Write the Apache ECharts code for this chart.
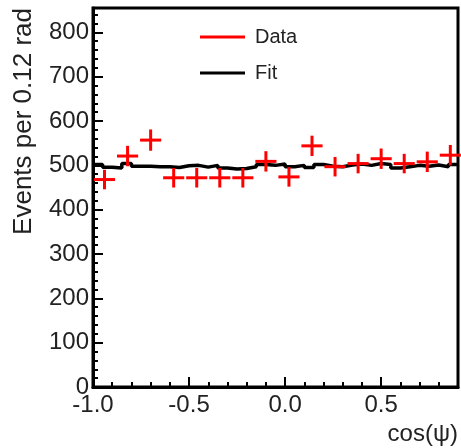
<!DOCTYPE html>
<html>
<head>
<meta charset="utf-8">
<script src="https://cdn.jsdelivr.net/npm/echarts@6/dist/echarts.min.js"></script>
<style>
html,body{margin:0;padding:0;background:#fff;}
#c{width:461px;height:448px;}
</style>
</head>
<body>
<div id="c"></div>
<script>
// Data points (bin centres, events, errors)
const dataX = [-0.94, -0.82, -0.70, -0.58, -0.46, -0.34, -0.22, -0.10, 0.02, 0.14, 0.26, 0.38, 0.50, 0.62, 0.74, 0.86];
const dataY = [468, 521, 557, 472, 472, 472, 472, 509, 474, 544, 497, 504, 515, 504, 508, 523];
const dataErr = [22, 23, 24, 22, 22, 22, 22, 23, 22, 23, 22, 22, 23, 22, 23, 23];

// Fit histogram (fine bins of 0.05 from -1.0 to 0.9)
const fitStart = -1.0;
const fitBinWidth = 0.05;
const fitValues = [502, 496, 494, 504, 498, 498, 497, 497, 495, 499, 500, 496, 500, 494, 492, 493, 497, 502, 500, 503,
                   497, 500, 495, 502, 498, 497, 501, 503, 500, 504, 502, 494, 497, 500, 498, 501, 497, 502];

const xTicks = [-1.0, -0.5, 0.0, 0.5];
const yTicks = [0, 100, 200, 300, 400, 500, 600, 700, 800];

const fitData = fitValues.map((v, i) => [+(fitStart + i * fitBinWidth).toFixed(3), v]);
fitData.push([+(fitStart + fitValues.length * fitBinWidth).toFixed(3), fitValues[fitValues.length - 1]]);

const crossData = dataX.map((x, i) => [x, dataY[i], dataErr[i]]);
const HALF = 0.055;

const chart = echarts.init(document.getElementById('c'), null, {renderer: 'canvas'});
const FONT = '"Liberation Sans", Arial, Helvetica, sans-serif';
const TXT = '#222';

chart.setOption({
  animation: false,
  backgroundColor: '#fff',
  textStyle: {fontFamily: FONT},
  grid: {left: 93, right: 1, top: 8, bottom: 61, show: true, borderColor: '#000', borderWidth: 3, backgroundColor: 'transparent'},
  legend: {
    orient: 'vertical',
    left: 195,
    top: 22,
    itemWidth: 45,
    itemHeight: 3,
    itemGap: 16,
    icon: 'rect',
    textStyle: {fontSize: 20, color: TXT, fontFamily: FONT, lineHeight: 20, padding: [0, 0, 0, 5]},
    data: ['Data', 'Fit']
  },
  xAxis: {
    type: 'value',
    min: -1.0,
    max: 0.9,
    interval: 0.5,
    name: 'cos(ψ)',
    nameLocation: 'end',
    nameGap: 0,
    nameTextStyle: {fontSize: 24, color: TXT, align: 'right', verticalAlign: 'top', padding: [35, 0, 0, 0], fontFamily: FONT},
    axisLine: {show: true, onZero: false, lineStyle: {color: '#000', width: 3}},
    axisTick: {show: true, inside: true, length: 10, lineStyle: {color: '#000', width: 2}},
    minorTick: {show: true, splitNumber: 5, length: 5, lineStyle: {color: '#000', width: 2}},
    splitLine: {show: false},
    axisLabel: {
      fontSize: 24, color: TXT, margin: 6, showMaxLabel: false, fontFamily: FONT,
      formatter: v => xTicks.some(t => Math.abs(t - v) < 1e-9) ? v.toFixed(1) : ''
    }
  },
  yAxis: {
    type: 'value',
    min: 0,
    max: 855,
    interval: 100,
    name: 'Events per 0.12 rad',
    nameLocation: 'end',
    nameGap: 0,
    nameRotate: 90,
    nameTextStyle: {fontSize: 26, color: TXT, align: 'right', verticalAlign: 'bottom', padding: [0, 0, 56, 0], fontFamily: FONT},
    axisLine: {show: true, onZero: false, lineStyle: {color: '#000', width: 3}},
    axisTick: {show: true, inside: true, length: 10, lineStyle: {color: '#000', width: 2}},
    minorTick: {show: true, splitNumber: 5, length: 5, lineStyle: {color: '#000', width: 2}},
    splitLine: {show: false},
    axisLabel: {
      fontSize: 24, color: TXT, margin: 4, showMaxLabel: false, fontFamily: FONT,
      formatter: v => yTicks.indexOf(v) >= 0 ? String(v) : ''
    }
  },
  series: [
    {
      name: 'Fit',
      type: 'line',
      step: 'end',
      data: fitData,
      symbol: 'none',
      color: '#000',
      lineStyle: {color: '#000', width: 3.5},
      z: 3
    },
    {
      name: 'Data',
      type: 'custom',
      color: '#ff0000',
      data: crossData,
      encode: {x: 0, y: 1},
      renderItem: function (params, api) {
        const x = api.value(0), y = api.value(1), e = api.value(2);
        const l = api.coord([x - HALF, y]);
        const r = api.coord([x + HALF, y]);
        const t = api.coord([x, y + e]);
        const b = api.coord([x, y - e]);
        const st = {stroke: '#ff0000', lineWidth: 3};
        return {
          type: 'group',
          children: [
            {type: 'line', shape: {x1: l[0], y1: l[1], x2: r[0], y2: r[1]}, style: st},
            {type: 'line', shape: {x1: t[0], y1: t[1], x2: b[0], y2: b[1]}, style: st}
          ]
        };
      },
      z: 4
    }
  ]
});
</script>
</body>
</html>
